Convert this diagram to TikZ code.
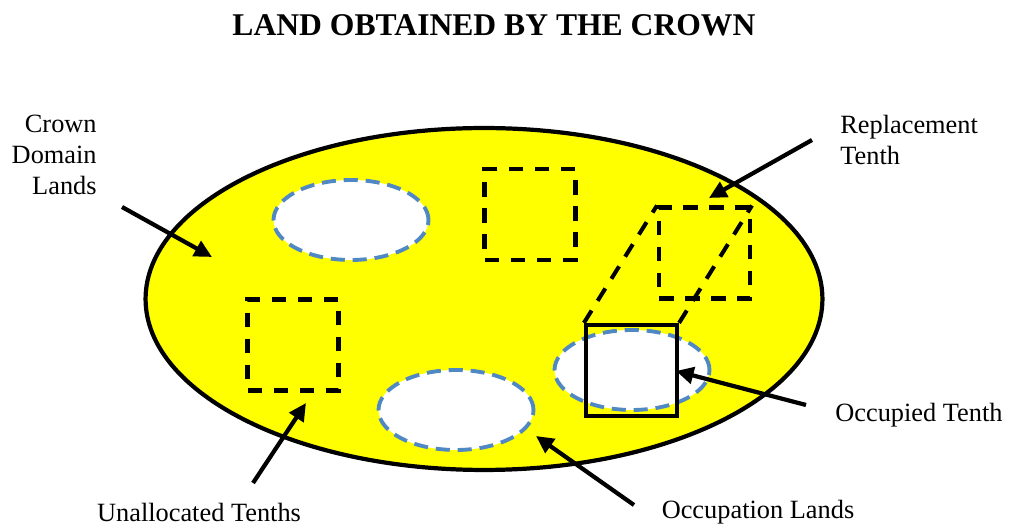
\documentclass[tikz,border=0pt]{standalone}
\usepackage{fontspec}
\setmainfont{Liberation Serif}
\usetikzlibrary{shapes.geometric,arrows.meta}
\definecolor{holeblue}{HTML}{5088C4}
\definecolor{landyellow}{HTML}{FFFF00}
\begin{document}
\begin{tikzpicture}[x=0.02cm,y=-0.02cm,
  lbl/.style={font=\fontsize{15}{17.6}\selectfont, inner sep=0pt},
  arr/.style={line width=2.4pt, -{Triangle[length=10pt,width=9.5pt]}},
  land/.style={ellipse, draw=black, line width=2.4pt, fill=landyellow, minimum width=13.54cm, minimum height=6.84cm, inner sep=0pt},
  hole/.style={ellipse, draw=holeblue, line width=2.2pt, dash pattern=on 8pt off 4.5pt, fill=white, minimum width=3.1cm, minimum height=1.6cm, inner sep=0pt},
  tenth/.style={rectangle, draw=black, line width=2.3pt, dash pattern=on 8.3pt off 6.5pt, minimum size=1.82cm, inner sep=0pt},
  projline/.style={draw=black, line width=2.3pt, dash pattern=on 8.3pt off 6.5pt},
  occupied/.style={rectangle, draw=black, line width=2.4pt, minimum size=1.82cm, inner sep=0pt}]
\useasboundingbox (0,0) rectangle (1009,526);
% title
\node[font=\bfseries\fontsize{18}{21}\selectfont, inner sep=0pt] (title) at (494,25) {LAND OBTAINED BY THE CROWN};
% land
\node[land] (crown) at (484,299) {};
% occupation lands
\node[hole] (occA) at (351,220) {};
\node[hole] (occB) at (456,410) {};
\node[hole] (occC) at (632,370) {};
% unallocated tenths
\node[tenth] (tenA) at (530,214.5) {};
\node[tenth] (tenB) at (293,345) {};
\node[tenth] (repl) at (704.5,253) {};
% occupied tenth
\node[occupied] (occT) at (631.5,370.5) {};
\draw[projline] (occT.north west) -- (repl.north west);
\draw[projline] (occT.north east) -- (repl.north east);
% labels
\node[lbl, align=right, anchor=east] (lCrown) at (97,155) {Crown\\Domain\\Lands};
\node[lbl, align=left, anchor=west] (lRepl) at (840,140) {Replacement\\Tenth};
\node[lbl, anchor=west] (lOccT) at (835,415) {Occupied Tenth};
\node[lbl] (lOccL) at (758,512) {Occupation Lands};
\node[lbl] (lUnal) at (199,512) {Unallocated Tenths};
% arrows
\coordinate (aCrownT) at (122,207);
\coordinate (aCrownH) at (212,257);
\coordinate (aReplT) at (812,140);
\coordinate (aReplH) at (709,198);
\coordinate (aOccTT) at (806,405);
\coordinate (aOccTH) at (676,371);
\coordinate (aOccLT) at (634,505);
\coordinate (aOccLH) at (536,436);
\coordinate (aUnalT) at (253,483);
\coordinate (aUnalH) at (306,403);
\draw[arr] (aCrownT) -- (aCrownH);
\draw[arr] (aReplT) -- (aReplH);
\draw[arr] (aOccTT) -- (aOccTH);
\draw[arr] (aOccLT) -- (aOccLH);
\draw[arr] (aUnalT) -- (aUnalH);
\end{tikzpicture}
\end{document}
